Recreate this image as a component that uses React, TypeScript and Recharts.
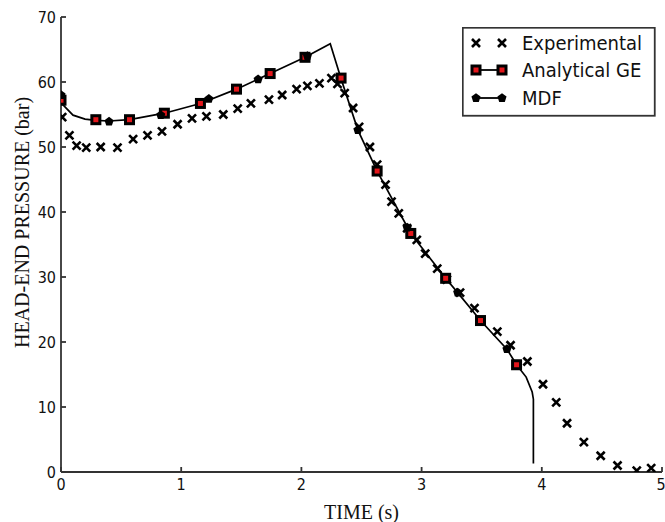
import React from 'react';
import { ComposedChart, Line, Scatter, XAxis, YAxis, Legend } from 'recharts';

document.body.style.margin = '0';

// axis ticks
const timeTicks = [0, 1, 2, 3, 4, 5];
const pressureTicks = [0, 10, 20, 30, 40, 50, 60, 70];

// Experimental (x markers)
const expTime = [
  0.01, 0.07, 0.13, 0.21, 0.33, 0.47, 0.6, 0.72, 0.84, 0.97, 1.09, 1.21, 1.35, 1.47, 1.58, 1.73,
  1.84, 1.96, 2.05, 2.15, 2.25, 2.3, 2.36, 2.43, 2.48, 2.57, 2.63, 2.7, 2.75, 2.81, 2.88, 2.96,
  3.03, 3.13, 3.21, 3.32, 3.44, 3.63, 3.74, 3.88, 4.01, 4.12, 4.21, 4.35, 4.49, 4.63, 4.79, 4.91,
];
const expPressure = [
  54.6, 51.8, 50.2, 49.9, 50.0, 49.9, 51.2, 51.8, 52.4, 53.5, 54.4, 54.7, 55.0, 55.9, 56.7, 57.3,
  58.0, 58.9, 59.4, 59.8, 60.6, 59.7, 58.3, 56.0, 53.1, 50.0, 47.3, 44.2, 41.6, 39.8, 37.5, 35.7,
  33.6, 31.3, 29.6, 27.6, 25.2, 21.6, 19.5, 17.0, 13.5, 10.7, 7.5, 4.6, 2.5, 1.0, 0.2, 0.6,
];

// Analytical GE (square markers)
const geTime = [0, 0.29, 0.57, 0.86, 1.16, 1.46, 1.74, 2.03, 2.33, 2.63, 2.91, 3.2, 3.49, 3.79];
const gePressure = [57.2, 54.2, 54.2, 55.2, 56.7, 58.9, 61.3, 63.8, 60.6, 46.3, 36.7, 29.8, 23.3, 16.5];

// MDF (pentagon markers)
const mdfTime = [0, 0.4, 0.83, 1.23, 1.64, 2.05, 2.47, 2.88, 3.3, 3.71];
const mdfPressure = [58.0, 53.9, 54.9, 57.4, 60.4, 64.0, 52.6, 37.6, 27.6, 18.9];

// model curve (line through the markers)
const curveTime = [
  0, 0.1, 0.2, 0.29, 0.4, 0.57, 0.86, 1.16, 1.46, 1.74, 2.03, 2.24, 2.33, 2.47, 2.63, 2.91, 3.2,
  3.3, 3.49, 3.71, 3.79, 3.87, 3.92, 3.93, 3.93,
];
const curvePressure = [
  56.8, 54.9, 54.3, 54.1, 54.0, 54.2, 55.2, 56.7, 58.9, 61.3, 63.8, 65.9, 60.5, 52.6, 46.3, 36.7,
  29.8, 27.6, 23.3, 18.9, 16.5, 14.6, 12.3, 11.2, 1.3,
];

const toPoints = (xs: number[], ys: number[]) => xs.map((x, i) => ({ x, y: ys[i] }));

const expData = toPoints(expTime, expPressure);
const geData = toPoints(geTime, gePressure);
const mdfData = toPoints(mdfTime, mdfPressure);
const curveData = toPoints(curveTime, curvePressure);

const tickFont = { fontSize: 16, fontFamily: '"DejaVu Sans Condensed", "DejaVu Sans", sans-serif', fill: '#111' };
const labelFont = { fontSize: 20, fontFamily: '"Liberation Serif", "Times New Roman", serif', fill: '#111' };
const RED = '#e3161b';
const FRAME = '#333';

const Cross = ({ cx, cy }: any) => (
  <path
    d={`M${cx - 4},${cy - 4}L${cx + 4},${cy + 4}M${cx - 4},${cy + 4}L${cx + 4},${cy - 4}`}
    stroke="#000"
    strokeWidth={2.6}
    fill="none"
  />
);

const Square = ({ cx, cy }: any) => (
  <rect x={cx - 4} y={cy - 4} width={8} height={8} fill={RED} stroke="#000" strokeWidth={3} />
);

const Pentagon = ({ cx, cy }: any) => {
  const r = 4.8;
  const pts = [0, 1, 2, 3, 4]
    .map((k) => {
      const a = -Math.PI / 2 + (k * 2 * Math.PI) / 5;
      return `${cx + r * Math.cos(a)},${cy + r * Math.sin(a)}`;
    })
    .join(' ');
  return <polygon points={pts} fill="#000" />;
};

const legendText = {
  fontSize: 20,
  fontFamily: '"DejaVu Sans Condensed", "DejaVu Sans", sans-serif',
  fill: '#111',
};

const LegendBox = () => (
  <svg width={194} height={90} style={{ display: 'block' }}>
    <rect x={0.75} y={0.75} width={192} height={88} fill="#fff" stroke={FRAME} strokeWidth={1.8} />
    <Cross cx={14} cy={16} />
    <Cross cx={40} cy={16} />
    <text x={60} y={16} dominantBaseline="central" {...legendText}>Experimental</text>
    <line x1={14} y1={43} x2={40} y2={43} stroke="#000" strokeWidth={1.8} />
    <Square cx={14} cy={43} />
    <Square cx={40} cy={43} />
    <text x={60} y={43} dominantBaseline="central" {...legendText}>Analytical GE</text>
    <line x1={14} y1={71} x2={40} y2={71} stroke="#000" strokeWidth={1.8} />
    <Pentagon cx={14} cy={71} />
    <Pentagon cx={40} cy={71} />
    <text x={60} y={71} dominantBaseline="central" {...legendText}>MDF</text>
  </svg>
);

export default function App() {
  return (
    <div style={{ width: 665, height: 522, background: '#fff' }}>
      <ComposedChart width={665} height={522} margin={{ top: 17, right: 3, left: 0, bottom: 0 }}>
        <XAxis
          dataKey="x"
          type="number"
          domain={[0, 5]}
          ticks={timeTicks}
          allowDataOverflow
          height={50}
          stroke={FRAME}
          strokeWidth={1.8}
          tickSize={-5}
          tickMargin={12}
          tick={tickFont}
          label={{ value: 'TIME (s)', position: 'insideBottom', offset: 3, style: labelFont }}
        />
        <XAxis
          xAxisId="top"
          orientation="top"
          dataKey="x"
          type="number"
          domain={[0, 5]}
          ticks={timeTicks}
          allowDataOverflow
          height={0}
          stroke={FRAME}
          strokeWidth={1.8}
          tickSize={-5}
          tick={false}
        />
        <YAxis
          dataKey="y"
          type="number"
          domain={[0, 70]}
          ticks={pressureTicks}
          allowDataOverflow
          width={61}
          stroke={FRAME}
          strokeWidth={1.8}
          tickSize={-5}
          tickMargin={10}
          tick={tickFont}
          label={{
            value: 'HEAD-END PRESSURE (bar)',
            angle: -90,
            position: 'insideLeft',
            offset: 22,
            dy: -22,
            style: { ...labelFont, textAnchor: 'middle' },
          }}
        />
        <YAxis
          yAxisId="right"
          orientation="right"
          dataKey="y"
          type="number"
          domain={[0, 70]}
          ticks={pressureTicks}
          allowDataOverflow
          width={0}
          stroke={FRAME}
          strokeWidth={1.8}
          tickSize={-5}
          tick={false}
        />
        <Scatter data={expData} dataKey="y" name="Experimental" shape={<Cross />} isAnimationActive={false} />
        <Line
          data={curveData}
          dataKey="y"
          type="linear"
          stroke="#000"
          strokeWidth={1.7}
          dot={false}
          activeDot={false}
          isAnimationActive={false}
        />
        <Scatter data={geData} dataKey="y" name="Analytical GE" shape={<Square />} isAnimationActive={false} />
        <Scatter data={mdfData} dataKey="y" name="MDF" shape={<Pentagon />} isAnimationActive={false} />
        <Legend
          layout="horizontal"
          verticalAlign="middle"
          align="center"
          content={() => <LegendBox />}
          wrapperStyle={{ top: 27, left: 462, width: 194, height: 90 }}
        />
      </ComposedChart>
    </div>
  );
}
